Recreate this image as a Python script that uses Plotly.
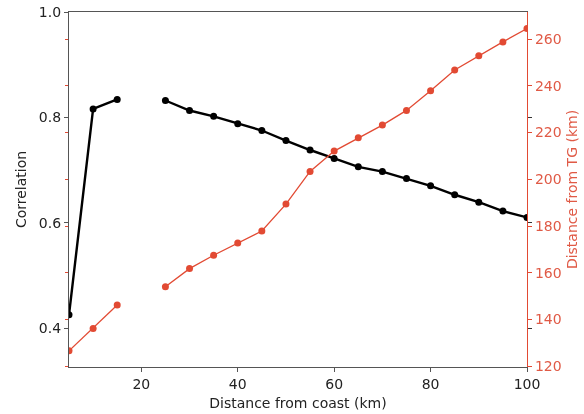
import plotly.graph_objects as go

distance_km = [5, 10, 15, 20, 25, 30, 35, 40, 45, 50, 55, 60, 65, 70, 75, 80, 85, 90, 95, 100]
correlation = [0.425, 0.816, 0.834, None, 0.832, 0.813, 0.802, 0.788, 0.775, 0.756, 0.738,
               0.722, 0.706, 0.697, 0.684, 0.670, 0.653, 0.639, 0.622, 0.610]
dist_from_tg = [126.6, 136.2, 146.2, None, 154.0, 161.8, 167.5, 172.8, 177.9, 189.4, 203.4,
                212.1, 217.8, 223.2, 229.5, 237.9, 246.8, 252.9, 258.8, 264.5]

x_ticks = [20, 40, 60, 80, 100]
corr_ticks = [0.4, 0.6, 0.8, 1.0]
tg_ticks = [120, 140, 160, 180, 200, 220, 240, 260]

RED = "#e24a33"
RED_TEXT = "#e05a46"
FONT = "DejaVu Sans"
corr_range = [0.326, 1.0]
tg_range = [119.7, 271.6]

fig = go.Figure()
fig.add_trace(go.Scatter(x=distance_km, y=correlation, mode="lines+markers",
                         line=dict(color="black", width=2.4),
                         marker=dict(color="black", size=7),
                         connectgaps=False, showlegend=False, yaxis="y"))
fig.add_trace(go.Scatter(x=distance_km, y=dist_from_tg, mode="lines+markers",
                         line=dict(color=RED, width=1.3),
                         marker=dict(color=RED, size=7),
                         connectgaps=False, showlegend=False, yaxis="y2"))
# dummy traces to materialize the mirrored tick axes
fig.add_trace(go.Scatter(x=distance_km, y=dist_from_tg, mode="markers", opacity=0,
                         hoverinfo="skip", showlegend=False, yaxis="y3"))
fig.add_trace(go.Scatter(x=distance_km, y=correlation, mode="markers", opacity=0,
                         hoverinfo="skip", showlegend=False, yaxis="y4"))

fig.update_layout(
    width=584, height=414,
    margin=dict(l=69, r=57, t=12, b=47, autoexpand=False),
    paper_bgcolor="white", plot_bgcolor="white",
    font=dict(family=FONT, size=14, color="#222"),
    xaxis=dict(range=[5, 100], tickvals=x_ticks, showgrid=False, zeroline=False,
               showline=True, linecolor="#555", linewidth=1.2, mirror=True,
               ticks="outside", ticklen=4, tickcolor="#555", automargin=False,
               title=dict(text="Distance from coast (km)", standoff=7,
                          font=dict(family=FONT, size=14, color="#222")),
               tickfont=dict(family=FONT, size=14, color="#222")),
    yaxis=dict(range=corr_range, tickvals=corr_ticks, tickformat=".1f",
               showgrid=False, zeroline=False, showline=True, linecolor="#555",
               linewidth=1.2, ticks="outside", ticklen=4, tickcolor="#555",
               automargin=False,
               title=dict(text="Correlation", standoff=8,
                          font=dict(family=FONT, size=14, color="#222")),
               tickfont=dict(family=FONT, size=14, color="#222")),
    yaxis2=dict(range=tg_range, tickvals=tg_ticks, overlaying="y", side="right",
                showgrid=False, zeroline=False, showline=True, linecolor=RED,
                linewidth=1.2, ticks="outside", ticklen=4, tickcolor=RED,
                automargin=False,
                title=dict(text="Distance from TG (km)", standoff=6,
                           font=dict(family=FONT, size=14, color=RED_TEXT)),
                tickfont=dict(family=FONT, size=14, color=RED_TEXT)),
    yaxis3=dict(range=tg_range, tickvals=tg_ticks, overlaying="y", side="left",
                showgrid=False, zeroline=False, showline=False, showticklabels=False,
                ticks="outside", ticklen=3, tickcolor=RED, automargin=False),
    yaxis4=dict(range=corr_range, tickvals=corr_ticks[:3], overlaying="y", side="right",
                showgrid=False, zeroline=False, showline=False, showticklabels=False,
                ticks="outside", ticklen=4, tickcolor="#333", automargin=False),
)

fig.write_html("out.html")
